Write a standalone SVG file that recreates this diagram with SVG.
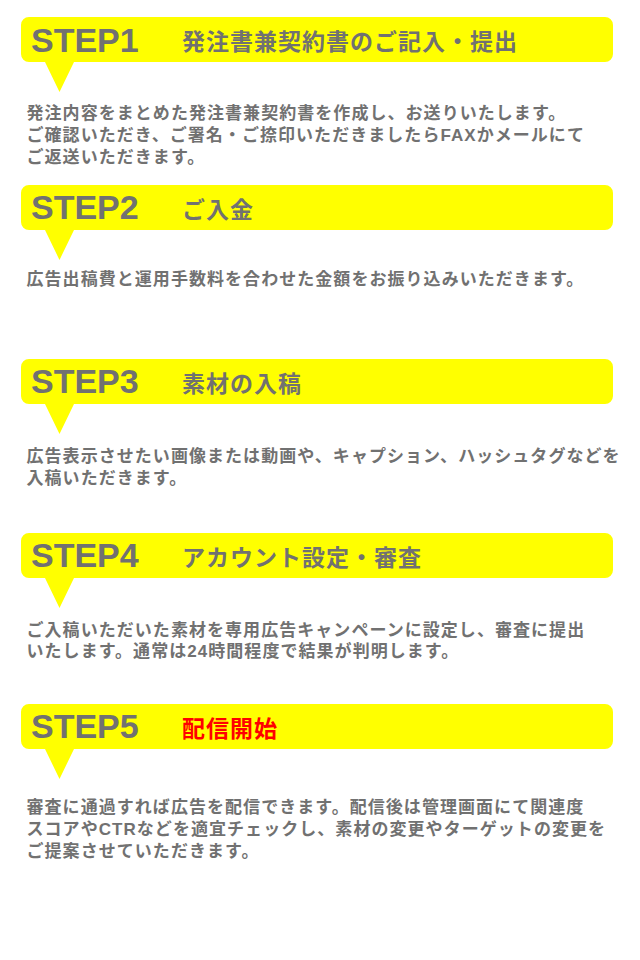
<svg xmlns="http://www.w3.org/2000/svg" width="640" height="960" viewBox="0 0 640 960">
  <style>
    .step { font-family: "Liberation Sans", Arial, sans-serif; font-weight: bold; font-size: 34px; fill: #717171; }
    .title { font-family: "Noto Sans CJK JP", "Noto Sans", sans-serif; font-weight: bold; font-size: 23px; letter-spacing: 1px; fill: #717171; }
    .title.red { fill: #ff0000; }
    .body { font-family: "Liberation Sans", "Noto Sans CJK JP", sans-serif; font-weight: bold; font-size: 17px; letter-spacing: 1.05px; fill: #717171; }
  </style>
  <defs>
    <path id="bubble" d="M29,0 H605 A8,8 0 0 1 613,8 V37 A8,8 0 0 1 605,45 H74 L59.5,75 L45,45 H29 A8,8 0 0 1 21,37 V8 A8,8 0 0 1 29,0 Z" fill="#ffff00"/>
  </defs>
  <rect width="640" height="960" fill="#ffffff"/>

  <g id="step1">
    <use href="#bubble" transform="translate(0,17)"/>
    <text class="step" x="31" y="52">STEP1</text>
    <text class="title" x="182" y="39.5" dominant-baseline="central">発注書兼契約書のご記入・提出</text>
    <text class="body" x="26.5" y="113" dominant-baseline="central">発注内容をまとめた発注書兼契約書を作成し、お送りいたします。</text>
    <text class="body" x="26.5" y="135" dominant-baseline="central">ご確認いただき、ご署名・ご捺印いただきましたらFAXかメールにて</text>
    <text class="body" x="26.5" y="157" dominant-baseline="central">ご返送いただきます。</text>
  </g>

  <g id="step2">
    <use href="#bubble" transform="translate(0,185)"/>
    <text class="step" x="31" y="219">STEP2</text>
    <text class="title" x="182" y="207.5" dominant-baseline="central">ご入金</text>
    <text class="body" x="26.5" y="279" dominant-baseline="central">広告出稿費と運用手数料を合わせた金額をお振り込みいただきます。</text>
  </g>

  <g id="step3">
    <use href="#bubble" transform="translate(0,359)"/>
    <text class="step" x="31" y="393">STEP3</text>
    <text class="title" x="182" y="381.5" dominant-baseline="central">素材の入稿</text>
    <text class="body" x="26.5" y="456" dominant-baseline="central">広告表示させたい画像または動画や、キャプション、ハッシュタグなどを</text>
    <text class="body" x="26.5" y="478" dominant-baseline="central">入稿いただきます。</text>
  </g>

  <g id="step4">
    <use href="#bubble" transform="translate(0,533)"/>
    <text class="step" x="31" y="567">STEP4</text>
    <text class="title" x="182" y="555.5" dominant-baseline="central">アカウント設定・審査</text>
    <text class="body" x="26.5" y="630" dominant-baseline="central">ご入稿いただいた素材を専用広告キャンペーンに設定し、審査に提出</text>
    <text class="body" x="26.5" y="651" dominant-baseline="central">いたします。通常は24時間程度で結果が判明します。</text>
  </g>

  <g id="step5">
    <use href="#bubble" transform="translate(0,704)"/>
    <text class="step" x="31" y="738">STEP5</text>
    <text class="title red" x="182" y="726.5" dominant-baseline="central">配信開始</text>
    <text class="body" x="26.5" y="807" dominant-baseline="central">審査に通過すれば広告を配信できます。配信後は管理画面にて関連度</text>
    <text class="body" x="26.5" y="829" dominant-baseline="central">スコアやCTRなどを適宜チェックし、素材の変更やターゲットの変更を</text>
    <text class="body" x="26.5" y="851" dominant-baseline="central">ご提案させていただきます。</text>
  </g>
</svg>
